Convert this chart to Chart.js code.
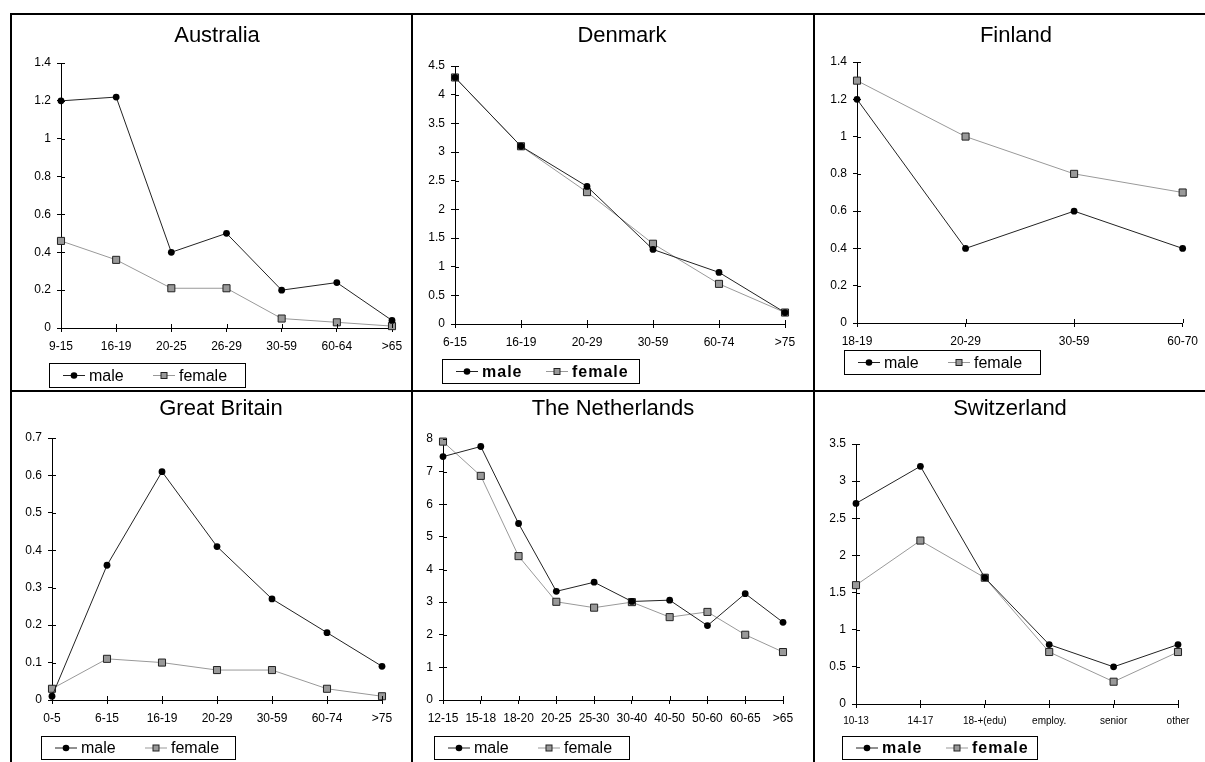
<!DOCTYPE html>
<html>
<head>
<meta charset="utf-8">
<script src="https://cdn.jsdelivr.net/npm/chart.js@4.4.1/dist/chart.umd.min.js"></script>
<style>
  body { margin:0; background:#fff; width:1205px; height:762px; position:relative; overflow:hidden; }
  canvas { position:absolute; }
  .rule { position:absolute; background:#000; z-index:5; }
</style>
</head>
<body>
<div class="rule" style="left:10px;top:13px;width:1195px;height:2px"></div>
<div class="rule" style="left:10px;top:13px;width:2px;height:749px"></div>
<div class="rule" style="left:411px;top:13px;width:2px;height:749px"></div>
<div class="rule" style="left:813px;top:13px;width:2px;height:749px"></div>
<div class="rule" style="left:10px;top:390px;width:1195px;height:2px"></div>

<script>
// ---- data ----
const ausLabels = ['9-15','16-19','20-25','26-29','30-59','60-64','>65'];
const ausMale   = [1.2, 1.22, 0.4, 0.5, 0.2, 0.24, 0.04];
const ausFemale = [0.46, 0.36, 0.21, 0.21, 0.05, 0.03, 0.01];

const denLabels = ['6-15','16-19','20-29','30-59','60-74','>75'];
const denMale   = [4.3, 3.1, 2.4, 1.3, 0.9, 0.2];
const denFemale = [4.3, 3.1, 2.3, 1.4, 0.7, 0.2];

const finLabels = ['18-19','20-29','30-59','60-70'];
const finMale   = [1.2, 0.4, 0.6, 0.4];
const finFemale = [1.3, 1.0, 0.8, 0.7];

const gbLabels = ['0-5','6-15','16-19','20-29','30-59','60-74','>75'];
const gbMale   = [0.01, 0.36, 0.61, 0.41, 0.27, 0.18, 0.09];
const gbFemale = [0.03, 0.11, 0.10, 0.08, 0.08, 0.03, 0.01];

const nlLabels = ['12-15','15-18','18-20','20-25','25-30','30-40','40-50','50-60','60-65','>65'];
const nlMale   = [7.46, 7.77, 5.41, 3.33, 3.61, 3.02, 3.06, 2.28, 3.26, 2.38];
const nlFemale = [7.92, 6.87, 4.41, 3.01, 2.83, 3.0, 2.54, 2.7, 2.0, 1.47];

const chLabels = ['10-13','14-17','18-+(edu)','employ.','senior','other'];
const chMale   = [2.7, 3.2, 1.7, 0.8, 0.5, 0.8];
const chFemale = [1.6, 2.2, 1.7, 0.7, 0.3, 0.7];

const seriesNames = ['male', 'female'];

// ---- panel layout ----
const FONT = '"Liberation Sans", Arial, sans-serif';
const panels = [
  {title:'Australia', labels:ausLabels, male:ausMale, female:ausFemale, max:1.4, step:0.2,
   cell:[12,15,399,375], plot:[61,392,63,328], tx:217, ty:42, legend:[49,363,196,24], bold:false, xSize:12},
  {title:'Denmark', labels:denLabels, male:denMale, female:denFemale, max:4.5, step:0.5,
   cell:[413,15,400,375], plot:[455,785,66,324], tx:622, ty:42, legend:[442,359,197,24], bold:true, xSize:12},
  {title:'Finland', labels:finLabels, male:finMale, female:finFemale, max:1.4, step:0.2,
   cell:[815,15,390,375], plot:[857,1187,62,323], tx:1016, ty:42, legend:[844,350,196,24], bold:false, xSize:12},
  {title:'Great Britain', labels:gbLabels, male:gbMale, female:gbFemale, max:0.7, step:0.1,
   cell:[12,392,399,370], plot:[52,382,438,700], tx:221, ty:415, legend:[41,736,194,23], bold:false, xSize:12},
  {title:'The Netherlands', labels:nlLabels, male:nlMale, female:nlFemale, max:8, step:1,
   cell:[413,392,400,370], plot:[443,783,439,700], tx:613, ty:415, legend:[434,736,195,23], bold:false, xSize:12},
  {title:'Switzerland', labels:chLabels, male:chMale, female:chFemale, max:3.5, step:0.5,
   cell:[815,392,390,370], plot:[856,1178,444,704], tx:1010, ty:415, legend:[842,736,195,23], bold:true, xSize:10}
];

// title, crossing tick marks and boxed legend
const decor = {
  id: 'decor',
  afterDraw(chart, args, o) {
    const ctx = chart.ctx;
    const x = chart.scales.x, y = chart.scales.y;
    const a = chart.chartArea;
    ctx.save();
    // inner half of tick marks
    ctx.strokeStyle = '#000';
    ctx.lineWidth = 1;
    ctx.beginPath();
    x.ticks.forEach((t, i) => {
      const px = Math.round(x.getPixelForTick(i)) + 0.5;
      ctx.moveTo(px, a.bottom); ctx.lineTo(px, a.bottom - 4);
    });
    y.ticks.forEach((t, i) => {
      const py = Math.round(y.getPixelForTick(i)) + 0.5;
      ctx.moveTo(a.left, py); ctx.lineTo(a.left + 4, py);
    });
    ctx.stroke();

    // title
    ctx.fillStyle = '#000';
    ctx.font = '22px ' + FONT;
    ctx.textAlign = 'center';
    ctx.textBaseline = 'alphabetic';
    ctx.fillText(o.title, o.tx, o.ty);

    // legend box
    const [lx, ly, lw, lh] = o.legend;
    ctx.lineWidth = 1;
    ctx.strokeRect(lx + 0.5, ly + 0.5, lw, lh);
    const cy = ly + lh / 2 + 0.5;
    ctx.font = (o.bold ? 'bold ' : '') + '16px ' + FONT;
    if (o.bold) ctx.letterSpacing = '1px';
    ctx.textAlign = 'left';
    ctx.textBaseline = 'middle';
    chart.data.datasets.forEach((ds, i) => {
      const sx = lx + (i === 0 ? 14 : 104);
      ctx.strokeStyle = ds.borderColor;
      ctx.beginPath(); ctx.moveTo(sx, cy); ctx.lineTo(sx + 22, cy); ctx.stroke();
      ctx.fillStyle = ds.pointBackgroundColor;
      ctx.strokeStyle = ds.pointBorderColor;
      if (ds.pointStyle === 'circle') {
        ctx.beginPath(); ctx.arc(sx + 11, cy, 3.3, 0, Math.PI * 2); ctx.fill();
      } else {
        ctx.fillRect(sx + 8, cy - 3, 6, 6);
        ctx.strokeRect(sx + 8, cy - 3, 6, 6);
      }
      ctx.fillStyle = '#000';
      ctx.fillText(ds.label, sx + 26, cy + 1);
    });
    ctx.restore();
  }
};

panels.forEach(p => {
  const [cx, cy, cw, ch] = p.cell;
  const [L, R, T, B] = p.plot;
  const cv = document.createElement('canvas');
  cv.width = cw; cv.height = ch;
  cv.style.left = cx + 'px'; cv.style.top = cy + 'px';
  document.body.appendChild(cv);

  new Chart(cv, {
    type: 'line',
    data: {
      labels: p.labels,
      datasets: [
        {label: seriesNames[0], data: p.male, borderColor: '#222', borderWidth: 1,
         pointStyle: 'circle', pointRadius: 3.4, pointBackgroundColor: '#000', pointBorderColor: '#000',
         pointBorderWidth: 0, tension: 0, clip: false},
        {label: seriesNames[1], data: p.female, borderColor: '#999', borderWidth: 1,
         pointStyle: 'rect', pointRadius: 5, pointBackgroundColor: '#999', pointBorderColor: '#222',
         pointBorderWidth: 1, tension: 0, clip: false}
      ]
    },
    options: {
      responsive: false,
      animation: false,
      events: [],
      layout: { padding: { left: 0, top: T - cy, right: cx + cw - R, bottom: 0 } },
      plugins: {
        legend: { display: false },
        title: { display: false },
        tooltip: { enabled: false },
        decor: { title: p.title, tx: p.tx - cx, ty: p.ty - cy, bold: p.bold,
                 legend: [p.legend[0] - cx, p.legend[1] - cy, p.legend[2], p.legend[3]] }
      },
      scales: {
        x: {
          offset: false,
          grid: { drawOnChartArea: false, drawTicks: true, tickLength: 4, color: '#000', tickColor: '#000' },
          border: { color: '#000', width: 1 },
          ticks: { color: '#000', font: { family: FONT, size: p.xSize }, padding: 7,
                   maxRotation: 0, autoSkip: false },
          afterFit: s => { s.height = cy + ch - B; }
        },
        y: {
          min: 0, max: p.max,
          grid: { drawOnChartArea: false, drawTicks: true, tickLength: 4, color: '#000', tickColor: '#000' },
          border: { color: '#000', width: 1 },
          ticks: { color: '#000', stepSize: p.step, font: { family: FONT, size: 12 }, padding: 6,
                   callback: v => String(+v.toFixed(2)) },
          afterFit: s => { s.width = L - cx; }
        }
      }
    },
    plugins: [decor]
  });
});
</script>
</body>
</html>
